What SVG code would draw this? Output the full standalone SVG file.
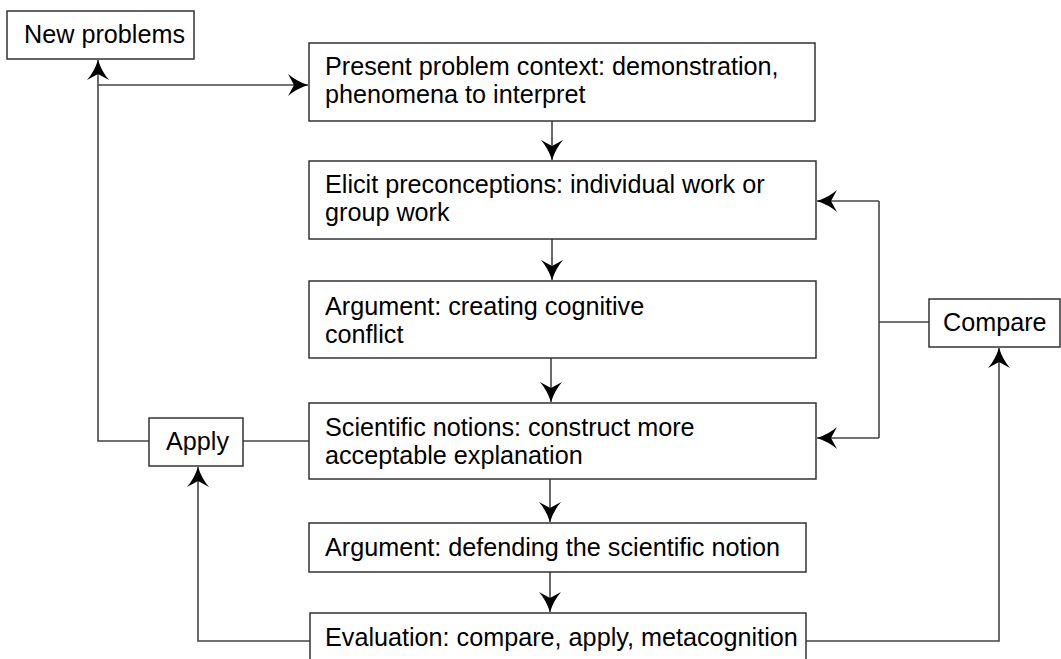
<svg xmlns="http://www.w3.org/2000/svg" width="1061" height="659" viewBox="0 0 1061 659">
  <style>
    .box { fill: #ffffff; stroke: #333333; stroke-width: 1.5; }
    .lbl { font-family: "Liberation Sans", Arial, sans-serif; font-size: 25.2px; fill: #000000; }
    .conn { fill: none; stroke: #444444; stroke-width: 1.6; }
  </style>
  <defs>
    <marker id="arr" viewBox="0 -11 21 22" refX="20" refY="0" markerWidth="21" markerHeight="22" markerUnits="userSpaceOnUse" orient="auto">
      <path d="M20,0 Q8,-4 0,-11 L6,0 L0,11 Q8,4 20,0 Z" fill="#000000"/>
    </marker>
  </defs>
  <rect width="1061" height="659" fill="#ffffff"/>

  <g id="connectors">
    <path class="conn" d="M149,441 L98,441 L98,60" marker-end="url(#arr)"/>
    <path class="conn" d="M98,85 L308,85" marker-end="url(#arr)"/>
    <path class="conn" d="M243,441 L309,441"/>
    <path class="conn" d="M552,121 L552,160" marker-end="url(#arr)"/>
    <path class="conn" d="M552,239 L552,280" marker-end="url(#arr)"/>
    <path class="conn" d="M551,358 L551,402" marker-end="url(#arr)"/>
    <path class="conn" d="M550,479 L550,522" marker-end="url(#arr)"/>
    <path class="conn" d="M550,572 L550,612" marker-end="url(#arr)"/>
    <path class="conn" d="M310,641 L198,641 L198,467" marker-end="url(#arr)"/>
    <path class="conn" d="M806,641 L999,641 L999,348" marker-end="url(#arr)"/>
    <path class="conn" d="M929,322 L879,322"/>
    <path class="conn" d="M879,201 L879,438"/>
    <path class="conn" d="M879,201 L817,201" marker-end="url(#arr)"/>
    <path class="conn" d="M879,438 L817,438" marker-end="url(#arr)"/>
  </g>

  <g id="new-problems">
    <rect class="box" x="7" y="11" width="187" height="48"/>
    <text class="lbl" x="24" y="43">New problems</text>
  </g>
  <g id="present">
    <rect class="box" x="309" y="43" width="506" height="78"/>
    <text class="lbl" x="325" y="75">Present problem context: demonstration,</text>
    <text class="lbl" x="325" y="103">phenomena to interpret</text>
  </g>
  <g id="elicit">
    <rect class="box" x="309" y="161" width="507" height="78"/>
    <text class="lbl" x="325" y="193">Elicit preconceptions: individual work or</text>
    <text class="lbl" x="325" y="221">group work</text>
  </g>
  <g id="argument-conflict">
    <rect class="box" x="309" y="281" width="507" height="77"/>
    <text class="lbl" x="325" y="315">Argument: creating cognitive</text>
    <text class="lbl" x="325" y="343">conflict</text>
  </g>
  <g id="scientific">
    <rect class="box" x="309" y="403" width="507" height="76"/>
    <text class="lbl" x="325" y="436">Scientific notions: construct more</text>
    <text class="lbl" x="325" y="464">acceptable explanation</text>
  </g>
  <g id="argument-defend">
    <rect class="box" x="309" y="523" width="497" height="49"/>
    <text class="lbl" x="325" y="556">Argument: defending the scientific notion</text>
  </g>
  <g id="evaluation">
    <rect class="box" x="310" y="613" width="496" height="60"/>
    <text class="lbl" x="325" y="646">Evaluation: compare, apply, metacognition</text>
  </g>
  <g id="apply">
    <rect class="box" x="149" y="418" width="94" height="48"/>
    <text class="lbl" x="166" y="450">Apply</text>
  </g>
  <g id="compare">
    <rect class="box" x="929" y="299" width="131" height="48"/>
    <text class="lbl" x="943" y="331">Compare</text>
  </g>
</svg>
